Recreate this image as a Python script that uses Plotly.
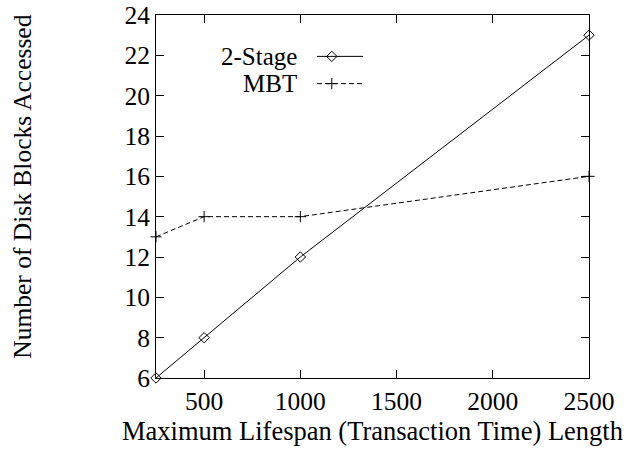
import plotly.graph_objects as go

lifespan = [250, 500, 1000, 2500]
two_stage = [6, 8, 12, 23]
mbt = [13, 14, 14, 16]
series_names = ["2-Stage", "MBT"]
x_ticks = [500, 1000, 1500, 2000, 2500]
y_ticks = [6, 8, 10, 12, 14, 16, 18, 20, 22, 24]

FONT = "Liberation Serif"
FS = 25.5

fig = go.Figure()
fig.add_trace(go.Scatter(
    x=lifespan, y=two_stage, mode="lines+markers", name=series_names[0],
    line=dict(color="black", width=1),
    marker=dict(symbol="diamond-open", size=8, color="black", line=dict(width=1)),
    cliponaxis=False, showlegend=False))
fig.add_trace(go.Scatter(
    x=lifespan, y=mbt, mode="lines+markers", name=series_names[1],
    line=dict(color="black", width=1, dash="5px,3px"),
    marker=dict(symbol="cross-thin-open", size=8, color="black", line=dict(width=1, color="black")),
    cliponaxis=False, showlegend=False))

# legend samples (gnuplot style: text left, sample right) on an overlay axis
leg_x = [0.372, 0.406, 0.478]
leg_y = [0.886, 0.811]
fig.add_trace(go.Scatter(
    x=leg_x, y=[leg_y[0]] * 3, xaxis="x2", yaxis="y2", mode="lines+markers",
    line=dict(color="black", width=1),
    marker=dict(symbol="diamond-open", size=8, color="black", opacity=[0, 1, 0]),
    showlegend=False, hoverinfo="skip"))
fig.add_trace(go.Scatter(
    x=leg_x, y=[leg_y[1]] * 3, xaxis="x2", yaxis="y2", mode="lines+markers",
    line=dict(color="black", width=1, dash="5px,3px"),
    marker=dict(symbol="cross-thin-open", size=8, color="black",
                opacity=[0, 1, 0], line=dict(width=1, color="black")),
    showlegend=False, hoverinfo="skip"))
for name, yy in zip(series_names, leg_y):
    fig.add_annotation(text=name, xref="paper", yref="paper", x=0.328, y=yy,
                       xanchor="right", yanchor="middle", showarrow=False,
                       borderpad=0,
                       font=dict(family=FONT, size=25, color="black"))

fig.add_annotation(text="Number of Disk Blocks Accessed", xref="paper", yref="paper",
                   x=-0.307, y=0.527, xanchor="center", yanchor="middle",
                   textangle=-90, showarrow=False,
                   font=dict(family=FONT, size=FS, color="black"))

axis_common = dict(showgrid=False, zeroline=False, showline=True, linecolor="black",
                   linewidth=1, mirror="allticks", ticks="inside", ticklen=8,
                   tickcolor="black", tickwidth=1, automargin=False,
                   tickfont=dict(family=FONT, size=FS, color="black"))

fig.update_layout(
    width=640, height=453,
    margin=dict(l=156, r=51, t=15, b=75, autoexpand=False),
    paper_bgcolor="white", plot_bgcolor="white",
    font=dict(family=FONT, size=FS, color="black"),
    xaxis=dict(range=[250, 2500], tickvals=x_ticks,
               title=dict(text="Maximum Lifespan (Transaction Time) Length",
                          font=dict(family=FONT, size=26.5), standoff=1),
               **axis_common),
    yaxis=dict(range=[6, 24], tickvals=y_ticks, **axis_common),
    xaxis2=dict(overlaying="x", range=[0, 1], visible=False, automargin=False),
    yaxis2=dict(overlaying="y", range=[0, 1], visible=False, automargin=False),
)

fig.write_html("out.html")
